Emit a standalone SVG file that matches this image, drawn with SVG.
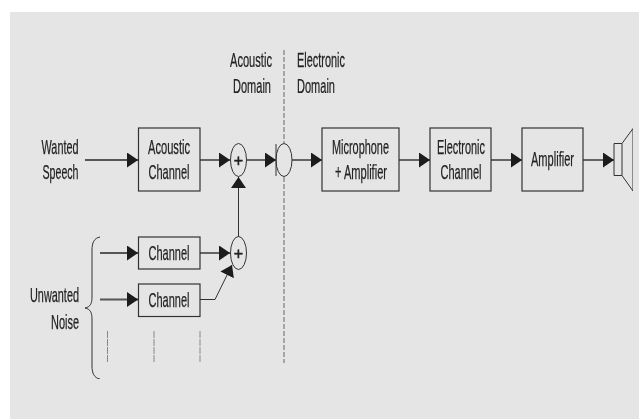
<svg xmlns="http://www.w3.org/2000/svg" width="639" height="419" viewBox="0 0 639 419">
<style>
.box{fill:none;stroke:#333;stroke-width:1.2}
.w{fill:none;stroke:#555;stroke-width:1.8}
.t{fill:none;stroke:#333;stroke-width:1}
.d{fill:none;stroke:#666;stroke-width:1;stroke-dasharray:5 2}
.s{fill:none;stroke:#888;stroke-width:1;stroke-dasharray:7 1}
text{font-family:"Liberation Sans",Arial,sans-serif;font-size:21px;fill:#222;stroke:#222;stroke-width:.25;text-anchor:middle}
.p{font-size:16px;stroke-width:.5}
.st{text-anchor:start}
</style>
<defs>
<marker id="a" markerUnits="userSpaceOnUse" markerWidth="12" markerHeight="16" refX="11" refY="7.500" orient="auto"><path d="M0 0L11 7.500L0 15Z" fill="#1a1a1a"/></marker>
<filter id="b" x="0" y="0" width="100%" height="100%"><feGaussianBlur stdDeviation="0.45"/></filter>
</defs>
<rect width="639" height="419" fill="#fff"/>
<rect x="10" y="12" width="629" height="407" fill="#e5e5e5"/>
<g filter="url(#b)">
<g id="connectors">
<path class="d" d="M284 50V143M284 177V363"/>
<path class="w" marker-end="url(#a)" d="M85 160H138"/>
<path class="w" marker-end="url(#a)" d="M200 160H230"/>
<path class="w" marker-end="url(#a)" d="M247 160H276"/>
<path class="w" marker-end="url(#a)" d="M292 160H322"/>
<path class="w" marker-end="url(#a)" d="M399 160H430"/>
<path class="w" marker-end="url(#a)" d="M491 160H522"/>
<path class="w" marker-end="url(#a)" d="M583 160H614"/>
<path class="t" marker-end="url(#a)" d="M238.500 237V177"/>
<path class="w" marker-end="url(#a)" d="M100 253H138"/>
<path class="w" marker-end="url(#a)" d="M200 253H230"/>
<path class="w" marker-end="url(#a)" d="M100 299.500H138"/>
<path class="t" marker-end="url(#a)" d="M200 299.500H215L232 265"/>
<path class="s" d="M107.500 331V362M154 331V362M200 331V362"/>
</g>
<g id="wanted-speech"><text x="60" y="154" textLength="37" lengthAdjust="spacingAndGlyphs">Wanted</text><text x="60.500" y="179" textLength="36" lengthAdjust="spacingAndGlyphs">Speech</text></g>
<g id="acoustic-domain"><text class="st" transform="translate(230 67) scale(.529 1)">Acoustic</text><text class="st" transform="translate(233 93) scale(.525 1)">Domain</text></g>
<g id="electronic-domain"><text class="st" transform="translate(297 67) scale(.52 1)">Electronic</text><text class="st" transform="translate(297 93) scale(.525 1)">Domain</text></g>
<g id="acoustic-channel"><rect class="box" x="138.500" y="128" width="61.500" height="63"/><text x="169" y="154" textLength="42" lengthAdjust="spacingAndGlyphs">Acoustic</text><text x="169" y="179" textLength="41" lengthAdjust="spacingAndGlyphs">Channel</text></g>
<g id="sum-1"><ellipse class="t" cx="238.500" cy="160" rx="8" ry="16.500"/><text class="p" x="238.500" y="166">+</text></g>
<g id="mic-circle"><ellipse class="t" cx="284" cy="160" rx="8" ry="16.500"/><path class="t" d="M276 144V176"/></g>
<g id="microphone-amplifier"><rect class="box" x="322" y="128" width="77" height="63"/><text x="360.500" y="154" textLength="57" lengthAdjust="spacingAndGlyphs">Microphone</text><text x="361" y="179" textLength="52" lengthAdjust="spacingAndGlyphs">+ Amplifier</text></g>
<g id="electronic-channel"><rect class="box" x="430" y="128" width="61" height="63"/><text x="461" y="154" textLength="48" lengthAdjust="spacingAndGlyphs">Electronic</text><text x="461" y="179" textLength="41" lengthAdjust="spacingAndGlyphs">Channel</text></g>
<g id="amplifier"><rect class="box" x="522" y="128" width="61" height="63"/><text x="552.500" y="166" textLength="43" lengthAdjust="spacingAndGlyphs">Amplifier</text></g>
<g id="speaker"><path class="t" d="M614 143.500H622V175.500H614ZM622 143.500L633 128.500V191L622 175.500"/></g>
<g id="channel-1"><rect class="box" x="138.500" y="237" width="61.500" height="32"/><text x="169" y="260" textLength="41" lengthAdjust="spacingAndGlyphs">Channel</text></g>
<g id="channel-2"><rect class="box" x="138.500" y="284" width="61.500" height="32.500"/><text x="169" y="307" textLength="41" lengthAdjust="spacingAndGlyphs">Channel</text></g>
<g id="sum-2"><ellipse class="t" cx="238.500" cy="253" rx="8" ry="16.500"/><text class="p" x="238.500" y="259">+</text></g>
<g id="unwanted-noise"><text x="54.500" y="302" textLength="49" lengthAdjust="spacingAndGlyphs">Unwanted</text><text x="65" y="329" textLength="28" lengthAdjust="spacingAndGlyphs">Noise</text>
<path class="t" d="M100 237C94 238 92 243 92 250V297C92 304 90 307 85 308C90 309 92 312 92 319V366C92 373 94 378 100 379"/></g>
</g>
</svg>
